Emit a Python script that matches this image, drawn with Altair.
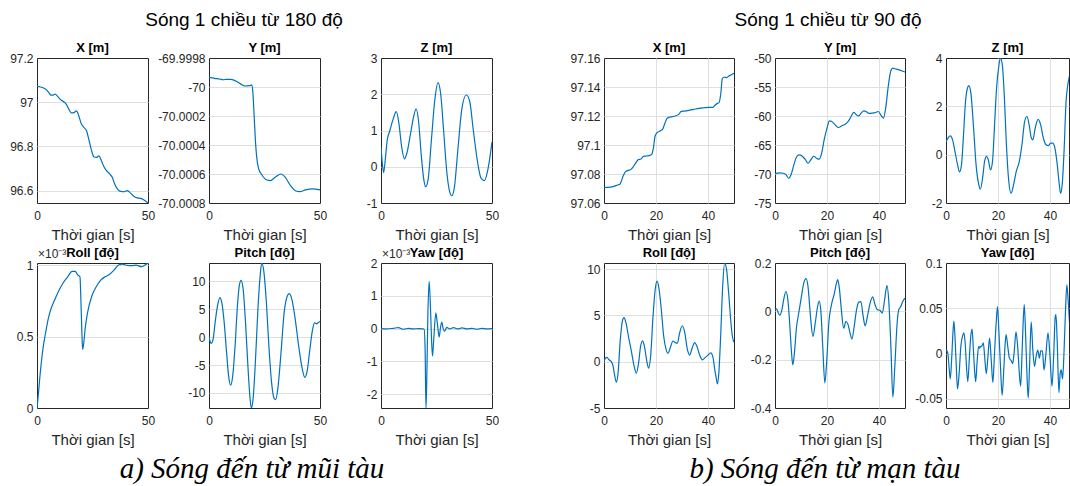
import altair as alt
import pandas as pd

# ---------------- text ----------------
heading_a = "Sóng 1 chiều từ 180 độ"
heading_b = "Sóng 1 chiều từ 90 độ"
caption_a = "a) Sóng đến từ mũi tàu"
caption_b = "b) Sóng đến từ mạn tàu"
time_title = "Thời gian [s]"
panel_titles = ["X [m]", "Y [m]", "Z [m]", "Roll [độ]", "Pitch [độ]", "Yaw [độ]"]
exponent_label = "×10⁻³"

# ---------------- (a) waves from 180 deg ----------------
a_x_t = [0, 1.5, 3.0, 4.2, 5.3, 6.3, 7.2, 8.3, 9.3, 10.5, 12.0, 13.3, 14.3, 15.5, 16.6, 17.8, 18.8, 19.9, 21.1, 22.3,
         23.3, 24.4, 25.6, 26.8, 27.9, 28.9, 30.1, 31.3, 32.8, 33.9, 34.9, 36.1, 37.3, 39.2, 40.7, 41.9, 43.4, 45.2,
         46.7, 48.2, 50]
a_x_v = [97.072, 97.069, 97.064, 97.057, 97.044, 97.032, 97.032, 97.037, 97.026, 97.013, 97.002, 96.989, 96.969,
         96.952, 96.953, 96.961, 96.939, 96.904, 96.886, 96.871, 96.833, 96.788, 96.753, 96.750, 96.757, 96.738,
         96.709, 96.690, 96.675, 96.660, 96.632, 96.609, 96.598, 96.595, 96.600, 96.591, 96.576, 96.567, 96.565,
         96.558, 96.544]

a_y_t = [0, 2.6, 4.8, 6.4, 7.9, 9.8, 11.7, 13.9, 16.2, 18.2, 19.2, 19.7, 20.3, 20.9, 21.5, 22.4, 23.8, 25.8, 27.6,
         29.8, 32.4, 34.4, 36.7, 38.9, 40.9, 43.5, 46.5, 50]
a_y_v = [-69.999933, -69.99994, -69.999945, -69.99995, -69.999947, -69.999947, -69.999956, -69.999975, -69.999993,
         -69.999991, -69.999986, -70.000025, -70.000186, -70.00037, -70.000485, -70.000566, -70.000605, -70.00064,
         -70.000646, -70.000623, -70.0006, -70.000623, -70.00068, -70.000715, -70.000722, -70.00071, -70.000703,
         -70.00071]

a_z_t = [0, 0.6, 1.2, 1.9, 2.8, 4.0, 5.5, 6.9, 8.1, 9.3, 10.6, 11.8, 13.3, 14.8, 15.8, 16.9, 18.2, 19.3, 20.1, 21.2,
         22.7, 24.2, 25.7, 26.9, 28.2, 29.7, 30.9, 31.9, 33.1, 34.6, 36.4, 38.4, 39.9, 41.6, 43.6, 45.1, 46.6, 48.1, 50]
a_z_v = [0.55, 0.09, -0.16, 0.18, 0.73, 1.0, 1.32, 1.52, 1.18, 0.55, 0.22, 0.41, 0.91, 1.41, 1.6, 1.27, 0.27, -0.36,
         -0.55, -0.36, 0.73, 1.82, 2.32, 2.0, 1.0, -0.18, -0.68, -0.8, -0.55, 0.45, 1.59, 1.98, 1.82, 1.0, 0.09, -0.32,
         -0.38, -0.09, 0.68]

# roll values in units of 1e-3 deg
a_roll_t = [0, 0.74, 1.19, 1.93, 2.68, 3.42, 4.17, 4.91, 5.65, 6.4, 7.89, 9.82, 11.61, 13.84, 15.77, 17.26, 18.3,
            19.35, 19.79, 20.24, 20.54, 20.98, 21.73, 22.77, 24.7, 26.49, 28.72, 30.65, 32.44, 34.67, 36.9, 38.39,
            40.63, 42.86, 44.64, 47.02, 48.81, 50]
a_roll_v = [0, 0.117, 0.2, 0.317, 0.415, 0.488, 0.552, 0.615, 0.662, 0.7, 0.756, 0.822, 0.873, 0.92, 0.958, 0.958,
            0.934, 0.92, 0.751, 0.516, 0.411, 0.446, 0.563, 0.669, 0.786, 0.845, 0.897, 0.92, 0.934, 0.967, 1.005,
            1.009, 1.0, 0.998, 1.002, 0.991, 1.005, 1.017]

a_pitch_t = [0, 0.46, 1.07, 1.83, 2.74, 3.81, 4.88, 5.79, 6.86, 7.93, 8.84, 9.76, 10.67, 11.74, 12.8, 13.72, 14.48,
             15.4, 16.46, 17.53, 18.29, 19.05, 19.82, 20.88, 22.1, 23.02, 23.78, 24.7, 25.76, 26.98, 28.2, 29.27,
             30.03, 30.95, 32.32, 33.84, 35.37, 36.13, 37.35, 38.87, 40.4, 41.92, 43.14, 44.21, 45.43, 46.65, 47.56,
             48.48, 49.09, 50]
a_pitch_v = [0, -0.72, -1.1, -0.4, 2.57, 5.55, 7.1, 6.15, 2.57, -2.8, -6.98, -8.6, -6.98, -1.6, 5.55, 9.43, 10.2,
             8.54, 2.57, -5.2, -9.97, -12.7, -11.2, -4.6, 5.55, 10.9, 13.3, 11.8, 6.75, -1.6, -8.2, -10.9, -11.2,
             -9.4, -3.4, 4.36, 7.46, 7.8, 6.75, 3.16, -1.6, -5.5, -7.2, -6.1, -2.2, 1.37, 2.57, 2.39, 2.57, 2.8]

# yaw values in units of 1e-3 deg
a_yaw_t = [0, 2.56, 5.57, 7.83, 10.09, 12.35, 14.61, 16.87, 18.83, 19.43, 19.88, 20.26, 20.63, 21.08, 21.69, 22.29,
           22.74, 23.19, 23.8, 24.7, 25.45, 26.2, 26.81, 27.41, 28.01, 28.61, 29.67, 30.87, 32.68, 34.49, 36.45, 38.7,
           40.96, 43.22, 45.48, 47.74, 50]
a_yaw_v = [0, -0.01, 0.01, 0.03, -0.02, 0.01, -0.01, 0.0, -0.01, -0.02, -0.69, -2.45, -1.5, 0.32, 1.44, 0.63, -0.28,
           -0.84, -0.28, 0.48, 0.12, -0.26, 0.04, 0.2, 0.0, -0.08, 0.04, -0.01, 0.03, -0.01, 0.02, -0.01, 0.01, -0.02,
           0.01, -0.01, 0]

# ---------------- (b) waves from 90 deg ----------------
b_x_t = [0, 1.55, 3.49, 4.79, 6.08, 7.37, 8.28, 9.31, 10.35, 11.25, 12.29, 13.2, 14.23, 15.14, 16.43, 17.72, 18.37,
         19.02, 19.66, 20.31, 21.6, 22.51, 23.29, 24.19, 25.1, 26.39, 27.43, 28.72, 29.75, 31.05, 32.6, 34.54, 36.48,
         38.42, 40.36, 41.91, 42.69, 43.6, 44.24, 44.89, 45.54, 46.31, 47.09, 47.87, 48.77, 50]
b_x_v = [97.0708, 97.0708, 97.0713, 97.0722, 97.0729, 97.0786, 97.0816, 97.0825, 97.0832, 97.085, 97.0878, 97.0899,
         97.0903, 97.0922, 97.0924, 97.0929, 97.0936, 97.0982, 97.1062, 97.1083, 97.1097, 97.1108, 97.1143, 97.1182,
         97.1191, 97.1195, 97.12, 97.1211, 97.1232, 97.1234, 97.1239, 97.1246, 97.1253, 97.1257, 97.126, 97.126,
         97.1274, 97.1287, 97.1292, 97.135, 97.146, 97.1469, 97.1464, 97.1474, 97.1483, 97.1495]

b_y_t = [0, 1.69, 3.25, 4.29, 5.32, 6.23, 7.14, 8.18, 9.22, 10.52, 11.56, 12.73, 13.77, 14.94, 15.97, 16.88, 17.92,
         18.96, 20.13, 20.91, 21.82, 23.12, 24.42, 25.71, 27.01, 28.31, 29.22, 30.26, 31.3, 32.21, 33.12, 34.16,
         35.19, 36.1, 37.4, 38.7, 39.74, 40.91, 41.69, 42.6, 43.51, 44.55, 45.32, 46.1, 47.14, 50]
b_y_v = [-69.93, -69.82, -69.87, -70.16, -70.74, -70.05, -68.61, -67.17, -66.71, -66.94, -67.45, -68.15, -67.57,
         -66.94, -67.28, -67.45, -66.47, -64.0, -61.87, -60.83, -60.95, -61.52, -61.98, -61.69, -61.41, -60.83,
         -60.14, -59.39, -59.79, -59.97, -59.51, -59.1, -59.27, -59.56, -59.51, -59.39, -59.22, -59.97, -60.37,
         -58.53, -55.07, -52.19, -51.73, -51.85, -51.96, -52.42]

b_z_t = [0, 0.89, 1.65, 2.54, 3.43, 4.44, 5.21, 5.97, 6.73, 7.49, 8.25, 8.76, 9.52, 10.54, 11.56, 12.57, 13.21, 14.1,
         14.86, 15.62, 16.25, 17.14, 17.9, 18.67, 19.43, 20.32, 20.95, 21.71, 22.48, 23.24, 24.13, 25.02, 26.03,
         27.05, 28.06, 29.21, 30.22, 31.11, 32.0, 32.76, 33.4, 34.29, 35.43, 36.44, 37.46, 38.48, 39.37, 40.25,
         41.02, 41.9, 42.79, 43.56, 44.06, 44.7, 45.46, 46.1, 47.0, 47.6]
b_z_v = [0.54, 0.71, 0.78, 0.61, 0.14, -0.41, -0.71, -0.41, 0.82, 2.18, 2.75, 2.86, 2.59, 1.22, -0.41, -1.22, -1.43,
         -0.95, -0.27, -0.07, -0.2, -0.63, -0.27, 1.22, 2.72, 3.67, 4.0, 3.67, 2.31, 0.41, -1.09, -1.6, -1.22, -0.68,
         -0.34, 0.41, 1.36, 1.59, 1.22, 0.71, 0.61, 1.09, 1.46, 1.22, 0.68, 0.41, 0.37, 0.48, 0.48, 0.27, -0.41,
         -1.22, -1.6, -1.22, 0.27, 2.04, 2.99, 3.3]

b_roll_t = [0, 0.51, 1.15, 1.92, 2.82, 3.46, 4.1, 4.74, 5.38, 6.28, 7.05, 7.69, 8.46, 9.49, 10.51, 11.54, 12.44,
            13.33, 14.1, 14.87, 15.64, 16.54, 17.18, 17.95, 18.85, 19.74, 20.38, 21.15, 22.05, 22.95, 23.85, 24.62,
            25.51, 26.54, 27.44, 28.21, 29.1, 30.13, 31.03, 32.05, 32.95, 33.85, 34.87, 35.77, 36.79, 37.82, 38.97,
            40.0, 41.03, 41.92, 42.56, 43.21, 43.59, 44.1, 44.87, 45.64, 46.41, 47.18, 47.95, 48.72, 49.36, 50]
b_roll_v = [0, 0.35, 0.46, 0.21, 0, -0.43, -1.49, -2.2, -1.31, 2.41, 4.36, 4.75, 4.18, 2.59, 1.17, -0.43, -1.25,
            -0.07, 1.7, 2.25, 1.52, -0.07, -0.7, 0.64, 4.89, 7.9, 8.7, 7.9, 5.6, 2.77, 1.35, 0.9, 1.52, 2.23, 2.06,
            1.99, 3.12, 3.88, 3.19, 1.35, 0.71, 1.42, 2.06, 1.63, 0.71, 0.2, 0.46, 0.71, 0.95, 0.46, -0.78, -1.84,
            -2.4, -1.49, 2.77, 8.09, 10.65, 9.86, 7.38, 4.54, 2.77, 2.1]

b_pitch_t = [0, 0.63, 1.27, 1.9, 2.67, 3.43, 4.19, 4.95, 5.71, 6.35, 6.86, 7.49, 8.25, 9.14, 10.16, 11.05, 11.94,
             12.7, 13.59, 14.6, 15.49, 16.38, 17.02, 17.65, 18.41, 19.17, 19.94, 20.7, 21.71, 22.86, 23.62, 24.13,
             24.76, 25.52, 26.41, 27.3, 28.06, 28.83, 29.59, 30.48, 31.37, 32.25, 33.02, 33.9, 34.67, 35.56, 36.57,
             37.59, 38.48, 39.37, 40.38, 41.27, 42.16, 43.05, 43.81, 44.57, 45.33, 46.1, 46.98, 47.62, 48.38, 49.14,
             50]
b_pitch_v = [0.007, 0.01, -0.007, -0.016, 0.007, 0.054, 0.082, 0.048, -0.061, -0.17, -0.222, -0.17, -0.068, -0.007,
             0.061, 0.116, 0.135, 0.102, -0.014, -0.104, -0.048, 0.02, 0.042, 0, -0.156, -0.296, -0.197, -0.048,
             0.027, 0.075, 0.116, 0.131, 0.095, 0.007, -0.07, -0.041, -0.054, -0.088, -0.115, -0.061, 0.007, 0.038,
             0.04, -0.02, -0.06, -0.02, 0.034, 0.06, 0.027, 0.007, 0.004, -0.007, 0.048, 0.106, 0.034, -0.143,
             -0.355, -0.224, -0.048, 0.007, 0.02, 0.041, 0.055]

b_yaw_t = [0, 0.38, 0.76, 1.27, 1.65, 2.16, 2.67, 3.05, 3.56, 4.06, 4.44, 5.08, 5.71, 6.35, 6.86, 7.37, 7.87, 8.38,
           9.02, 9.52, 10.03, 10.54, 11.05, 11.43, 11.94, 12.57, 12.95, 13.33, 13.71, 14.35, 14.86, 15.49, 16.13,
           16.76, 17.4, 18.03, 18.67, 19.3, 19.81, 20.32, 20.95, 21.59, 22.22, 22.73, 23.11, 23.75, 24.38, 25.14,
           25.65, 26.29, 26.92, 27.56, 28.19, 28.7, 29.21, 29.71, 30.1, 30.6, 31.11, 31.62, 32.13, 32.76, 33.4,
           34.03, 34.67, 35.3, 35.94, 36.44, 37.08, 37.71, 38.35, 39.24, 40.0, 40.76, 41.4, 42.03, 42.29, 42.79,
           43.43, 43.94, 44.32, 44.83, 45.33, 45.97, 46.48, 46.98, 47.5]
b_yaw_v = [0.003, 0.003, -0.001, -0.018, -0.028, -0.007, 0.023, 0.036, 0.012, -0.021, -0.039, -0.021, 0.008, 0.019,
           0.023, 0.012, -0.014, -0.031, -0.003, 0.019, 0.027, 0.004, -0.021, -0.031, -0.01, 0.008, 0.006, 0.008,
           0.008, 0.012, -0.003, -0.022, -0.003, 0.017, -0.007, -0.032, 0.001, 0.034, 0.052, 0.026, -0.014, -0.046,
           -0.018, 0.01, 0.021, 0.008, -0.005, -0.008, -0.011, 0.004, 0.024, 0.008, -0.021, -0.036, -0.003, 0.037,
           0.054, 0.023, -0.021, -0.049, -0.014, 0.035, 0.004, -0.014, -0.003, 0.004, -0.005, 0.003, 0.003, -0.018,
           -0.003, 0.023, -0.003, -0.036, -0.003, 0.041, 0.043, 0.012, -0.043, -0.021, -0.018, -0.028, -0.003,
           0.048, 0.076, 0.059, 0.035]

# ---------------- axis ticks / limits ----------------
a_time_ticks = [0, 50]
b_time_ticks = [0, 20, 40]
a_x_ticks, a_x_dom = [96.6, 96.8, 97.0, 97.2], [96.544, 97.2]
a_y_ticks, a_y_dom = [-70.0008, -70.0006, -70.0004, -70.0002, -70.0, -69.9998], [-70.0008, -69.9998]
a_z_ticks, a_z_dom = [-1, 0, 1, 2, 3], [-1, 3]
a_roll_ticks, a_roll_dom = [0, 0.5, 1], [0, 1.017]
a_pitch_ticks, a_pitch_dom = [-10, -5, 0, 5, 10], [-12.7, 13.3]
a_yaw_ticks, a_yaw_dom = [-2, -1, 0, 1, 2], [-2.42, 2]
b_x_ticks, b_x_dom = [97.06, 97.08, 97.1, 97.12, 97.14, 97.16], [97.06, 97.16]
b_y_ticks, b_y_dom = [-75, -70, -65, -60, -55, -50], [-75, -50]
b_z_ticks, b_z_dom = [-2, 0, 2, 4], [-2, 4]
b_roll_ticks, b_roll_dom = [-5, 0, 5, 10], [-5, 10.65]
b_pitch_ticks, b_pitch_dom = [-0.4, -0.2, 0, 0.2], [-0.4, 0.2]
b_yaw_ticks, b_yaw_dom = [-0.05, 0, 0.05, 0.1], [-0.06, 0.1]

# ---------------- styling ----------------
FONT = "Liberation Sans"
SERIF = "Liberation Serif"
LINE = "#0072BD"
AX = "#262626"
LABEL_EXPR = "replace(format(datum.value, '~g'), '\u2212', '-')"

col_w = [37, 111, 61, 111, 61, 111, 112, 130, 41, 130, 41, 123]
row_h = [57, 145, 60, 145, 78]


def edge_hide(dom):
    lo, hi = dom
    eps = (hi - lo) * 0.002
    return {"condition": {"test": f"datum.value <= {lo + eps!r} || datum.value >= {hi - eps!r}", "value": 0},
            "value": 1}


def one(text):
    return pd.DataFrame({"s": [text]})


def panel(t, v, title, ydom, yticks, xdom, xticks, xgrid, w, h, expo=None):
    df = pd.DataFrame({"t": t, "v": v})
    xaxis = alt.Axis(values=xticks, grid=xgrid, gridOpacity=edge_hide(xdom), title=time_title,
                     labelExpr=LABEL_EXPR, labelPadding=7, titlePadding=6)
    yaxis = alt.Axis(values=yticks, grid=True, gridOpacity=edge_hide(ydom), title=None,
                     labelExpr=LABEL_EXPR, labelPadding=4)
    line = alt.Chart(df).mark_line(color=LINE, strokeWidth=1.2, interpolate="monotone", clip=True).encode(
        x=alt.X("t:Q", scale=alt.Scale(domain=xdom, nice=False, zero=False), axis=xaxis),
        y=alt.Y("v:Q", scale=alt.Scale(domain=ydom, nice=False, zero=False), axis=yaxis),
    )
    layers = [line]
    if expo:
        layers.append(alt.Chart(one(expo)).mark_text(align="left", baseline="alphabetic", font=FONT, fontSize=12,
                                                     color=AX).encode(
            x=alt.value(1), y=alt.value(-5), text="s:N"))
    layers.append(alt.Chart(one(title)).mark_text(align="center", baseline="alphabetic", font=FONT, fontSize=13,
                                                  fontWeight="bold", color="#000000").encode(
        x=alt.value(w / 2), y=alt.value(-6), text="s:N"))
    return alt.layer(*layers).properties(width=w, height=h,
                                         view=alt.ViewBackground(stroke=AX, strokeWidth=1))


def spacer(w, h):
    return alt.Chart(one("")).mark_text().encode(text="s:N").properties(width=w, height=h)


def label_cell(text, w, h, x, y, font, size, italic=False):
    return alt.Chart(one(text)).mark_text(align="center", baseline="alphabetic", font=font, fontSize=size,
                                          fontStyle="italic" if italic else "normal", color="#000000").encode(
        x=alt.value(x), y=alt.value(y), text="s:N").properties(width=w, height=h)


a_time = [0, 50]
b_time = [0, 50]
b_time_cut = [0, 50 * col_w[11] / col_w[7]]

panels = {
    (1, 1): (a_x_t, a_x_v, panel_titles[0], a_x_dom, a_x_ticks, a_time, a_time_ticks, False, None),
    (1, 3): (a_y_t, a_y_v, panel_titles[1], a_y_dom, a_y_ticks, a_time, a_time_ticks, False, None),
    (1, 5): (a_z_t, a_z_v, panel_titles[2], a_z_dom, a_z_ticks, a_time, a_time_ticks, False, None),
    (3, 1): (a_roll_t, a_roll_v, panel_titles[3], a_roll_dom, a_roll_ticks, a_time, a_time_ticks, False, exponent_label),
    (3, 3): (a_pitch_t, a_pitch_v, panel_titles[4], a_pitch_dom, a_pitch_ticks, a_time, a_time_ticks, False, None),
    (3, 5): (a_yaw_t, a_yaw_v, panel_titles[5], a_yaw_dom, a_yaw_ticks, a_time, a_time_ticks, False, exponent_label),
    (1, 7): (b_x_t, b_x_v, panel_titles[0], b_x_dom, b_x_ticks, b_time, b_time_ticks, True, None),
    (1, 9): (b_y_t, b_y_v, panel_titles[1], b_y_dom, b_y_ticks, b_time, b_time_ticks, True, None),
    (1, 11): (b_z_t, b_z_v, panel_titles[2], b_z_dom, b_z_ticks, b_time_cut, b_time_ticks, True, None),
    (3, 7): (b_roll_t, b_roll_v, panel_titles[3], b_roll_dom, b_roll_ticks, b_time, b_time_ticks, True, None),
    (3, 9): (b_pitch_t, b_pitch_v, panel_titles[4], b_pitch_dom, b_pitch_ticks, b_time, b_time_ticks, True, None),
    (3, 11): (b_yaw_t, b_yaw_v, panel_titles[5], b_yaw_dom, b_yaw_ticks, b_time_cut, b_time_ticks, True, None),
}

texts = {
    (0, 3): (heading_a, 35, 25, FONT, 19, False),
    (0, 9): (heading_b, 53, 25, FONT, 19, False),
    (4, 3): (caption_a, 43, 70, SERIF, 29, True),
    (4, 9): (caption_b, 50, 70, SERIF, 29, True),
}

cells = []
for r, h in enumerate(row_h):
    for c, w in enumerate(col_w):
        if (r, c) in panels:
            t, v, title, ydom, yticks, xdom, xticks, xgrid, expo = panels[(r, c)]
            cells.append(panel(t, v, title, ydom, yticks, xdom, xticks, xgrid, w, h, expo))
        elif (r, c) in texts:
            txt, x, y, font, size, italic = texts[(r, c)]
            cells.append(label_cell(txt, w, h, x, y, font, size, italic))
        else:
            cells.append(spacer(w, h))

chart = alt.concat(*cells, columns=len(col_w), spacing=0, bounds="flush").properties(
    padding={"left": 0, "top": 0, "right": 0, "bottom": 0}
).configure_view(stroke="transparent").configure_axis(
    labelFont=FONT, labelFontSize=12, labelColor=AX,
    titleFont=FONT, titleFontSize=15, titleColor=AX, titleFontWeight="normal",
    domain=False, ticks=False, tickSize=0, labelFlush=False, labelOverlap=False,
    gridColor="#dfdfdf", gridWidth=1,
)

chart.save("out.html", embed_options={"renderer": "svg", "actions": False})
